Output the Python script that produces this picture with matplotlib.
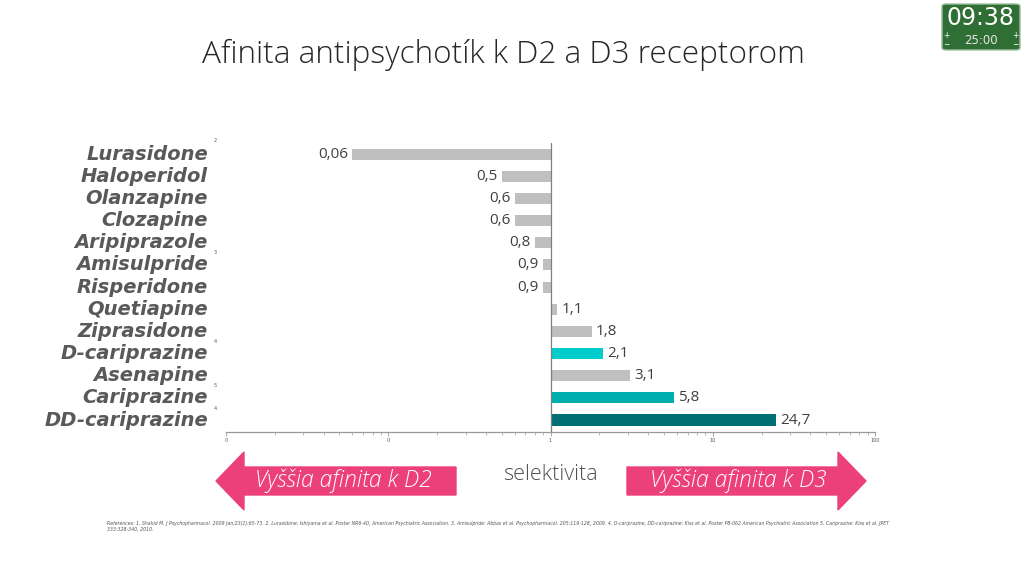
import matplotlib
matplotlib.use("Agg")
import matplotlib.pyplot as plt
from matplotlib.patches import FancyArrow, FancyBboxPatch
from matplotlib.ticker import FixedLocator, LogLocator, NullFormatter

# data
drugs = ["Lurasidone", "Haloperidol", "Olanzapine", "Clozapine", "Aripiprazole",
         "Amisulpride", "Risperidone", "Quetiapine", "Ziprasidone", "D-cariprazine",
         "Asenapine", "Cariprazine", "DD-cariprazine"]
selectivity = [0.06, 0.5, 0.6, 0.6, 0.8, 0.9, 0.9, 1.1, 1.8, 2.1, 3.1, 5.8, 24.7]
value_labels = ["0,06", "0,5", "0,6", "0,6", "0,8", "0,9", "0,9", "1,1", "1,8", "2,1", "3,1", "5,8", "24,7"]
bar_colors = ["#BFBFBF"] * 9 + ["#00CCCC", "#BFBFBF", "#00AEAE", "#006F73"]
ref_marks = {"Lurasidone": ("2", -0.6), "Aripiprazole": ("3", 0.45), "D-cariprazine": ("4", -0.55),
             "Cariprazine": ("5", -0.55), "DD-cariprazine": ("4", -0.5)}
tick_vals = [0.01, 0.1, 1, 10, 100]
tick_text = ["0", "0", "1", "10", "100"]

title = "Afinita antipsychotík k D2 a D3 receptorom"
references = ("References: 1. Shahid M. J Psychopharmacol. 2009 Jan;23(1):65-73. 2. Lurasidone: Ishiyama et al. Poster NR6-40, "
              "American Psychiatric Association. 3. Amisulpride: Abbas et al. Psychopharmacol. 205:119-128, 2009. 4. D-cariprazine, "
              "DD-cariprazine: Kiss et al. Poster P8-062 American Psychiatric Association 5. Cariprazine: Kiss et al. JPET\n"
              "333:328-340, 2010.")

W, H = 1024, 576
fig = plt.figure(figsize=(W / 100, H / 100), dpi=100)
fig.patch.set_facecolor("white")

# axes box in pixel terms: x 226..875, y 143..432
ax = fig.add_axes([226 / W, 1 - 432 / H, (875 - 226) / W, (432 - 143) / H])
ax.set_xscale("log")
ax.set_xlim(0.01, 100)
ypos = list(range(len(drugs)))
ax.set_ylim(12.54, -0.5)

widths = [v - 1 for v in selectivity]
ax.barh(ypos, widths, left=1, height=0.5, color=bar_colors, zorder=2)

for y, v, lab in zip(ypos, selectivity, value_labels):
    if v < 1:
        ax.annotate(lab, (v, y), xytext=(-3, 0), textcoords="offset points",
                    ha="right", va="center", fontsize=11, color="#404040", family="Open Sans")
    else:
        ax.annotate(lab, (v, y), xytext=(3, 0), textcoords="offset points",
                    ha="left", va="center", fontsize=11, color="#404040", family="Open Sans")

ax.axvline(1, color="#808080", lw=0.9, zorder=3)

for s in ["top", "right", "left"]:
    ax.spines[s].set_visible(False)
ax.spines["bottom"].set_color("#999999")
ax.spines["bottom"].set_linewidth(0.9)
ax.set_yticks([])
ax.xaxis.set_major_locator(FixedLocator(tick_vals))
ax.set_xticklabels(tick_text, fontsize=3.5, color="#555555")
ax.xaxis.set_minor_locator(LogLocator(base=10, subs=range(2, 10)))
ax.xaxis.set_minor_formatter(NullFormatter())
ax.tick_params(axis="x", which="major", length=3, width=0.6, color="#999999", pad=1.5)
ax.tick_params(axis="x", which="minor", length=2, width=0.5, color="#999999")

# drug names on the left
for y, name in zip(ypos, drugs):
    ax.annotate(name, (0.01, y), xycoords=("data", "data"), xytext=(-13, 0), textcoords="offset points",
                ha="right", va="center", fontsize=14, fontweight="bold", fontstyle="italic",
                color="#595959", family="DejaVu Sans", annotation_clip=False)
    if name in ref_marks:
        mark, dy = ref_marks[name]
        ax.annotate(mark, (0.01, y + dy), xytext=(-9, 0), textcoords="offset points",
                    ha="left", va="center", fontsize=3.5, color="#555555", annotation_clip=False)

# title
fig.text(503 / W, 1 - 55 / H, title, ha="center", va="center", fontsize=22.7,
         color="#262626", family="Open Sans", fontweight="light")

# arrows under the chart
pink = "#EC407A"
ya = 1 - 481 / H
fig.patches.append(FancyArrow(456 / W, ya, -(456 - 216) / W, 0, width=28 / H, head_width=58 / H,
                              head_length=28 / W, length_includes_head=True, color=pink,
                              transform=fig.transFigure, figure=fig))
fig.patches.append(FancyArrow(627 / W, ya, (866 - 627) / W, 0, width=28 / H, head_width=58 / H,
                              head_length=28 / W, length_includes_head=True, color=pink,
                              transform=fig.transFigure, figure=fig))
fig.text(343 / W, ya, "Vyššia afinita k D2", ha="center", va="center", fontsize=16.5,
         fontstyle="italic", color="white", family="Open Sans", fontweight="light")
fig.text(738 / W, ya, "Vyššia afinita k D3", ha="center", va="center", fontsize=16.5,
         fontstyle="italic", color="white", family="Open Sans", fontweight="light")
fig.text(550 / W, 1 - 475 / H, "selektivita", ha="center", va="center", fontsize=15.5,
         color="#505050", family="Open Sans", fontweight="light")

# references
fig.text(107 / W, 1 - 521 / H, references, ha="left", va="top", fontsize=3.35,
         fontstyle="italic", color="#555555", linespacing=1.3)

# timer widget top right
fig.patches.append(FancyBboxPatch((942 / W, 1 - 50 / H), 78 / W, 46 / H,
                                  boxstyle="round,pad=0,rounding_size=0.004",
                                  facecolor="#2F6E35", edgecolor="#9DBF9F", lw=1.0,
                                  transform=fig.transFigure, figure=fig))
fig.text(981 / W, 1 - 18 / H, "09:38", ha="center", va="center", fontsize=17, color="white")
fig.text(981 / W, 1 - 40 / H, "25:00", ha="center", va="center", fontsize=8.5, color="#E6E6E6")
for xx in [946, 1015]:
    fig.text(xx / W, 1 - 36 / H, "+", ha="center", va="center", fontsize=5.5, color="white")
    fig.text(xx / W, 1 - 45 / H, "−", ha="center", va="center", fontsize=5.5, color="white")

fig.savefig("out.png", dpi=100, facecolor="white")
plt.close(fig)
